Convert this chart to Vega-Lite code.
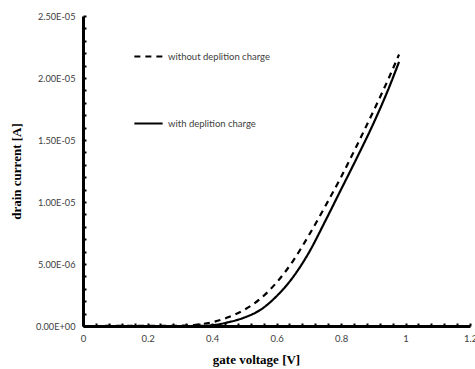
{
  "$schema": "https://vega.github.io/schema/vega-lite/v6.json",
  "width": 387,
  "height": 310,
  "autosize": {"type": "none"},
  "padding": {"left": 83, "top": 16, "right": 5, "bottom": 43},
  "background": "white",
  "config": {"view": {"stroke": null}},
  "data": {"values": [
    {"V": 0, "I": 0, "s": "without deplition charge"},
    {"V": 0.3, "I": 0.00000002, "s": "without deplition charge"},
    {"V": 0.35, "I": 0.0000001, "s": "without deplition charge"},
    {"V": 0.4, "I": 0.0000003, "s": "without deplition charge"},
    {"V": 0.45, "I": 0.0000007, "s": "without deplition charge"},
    {"V": 0.5, "I": 0.0000013, "s": "without deplition charge"},
    {"V": 0.55, "I": 0.0000022, "s": "without deplition charge"},
    {"V": 0.6, "I": 0.0000035, "s": "without deplition charge"},
    {"V": 0.65, "I": 0.0000052, "s": "without deplition charge"},
    {"V": 0.7, "I": 0.0000073, "s": "without deplition charge"},
    {"V": 0.75, "I": 0.0000096, "s": "without deplition charge"},
    {"V": 0.8, "I": 0.000012, "s": "without deplition charge"},
    {"V": 0.85, "I": 0.0000146, "s": "without deplition charge"},
    {"V": 0.9, "I": 0.0000173, "s": "without deplition charge"},
    {"V": 0.95, "I": 0.0000201, "s": "without deplition charge"},
    {"V": 0.98, "I": 0.0000219, "s": "without deplition charge"},
    {"V": 0, "I": 0, "s": "with deplition charge"},
    {"V": 0.35, "I": 0, "s": "with deplition charge"},
    {"V": 0.4, "I": 0.00000006, "s": "with deplition charge"},
    {"V": 0.45, "I": 0.0000003, "s": "with deplition charge"},
    {"V": 0.5, "I": 0.00000068, "s": "with deplition charge"},
    {"V": 0.55, "I": 0.0000013, "s": "with deplition charge"},
    {"V": 0.6, "I": 0.0000024, "s": "with deplition charge"},
    {"V": 0.65, "I": 0.0000039, "s": "with deplition charge"},
    {"V": 0.7, "I": 0.0000059, "s": "with deplition charge"},
    {"V": 0.75, "I": 0.0000084, "s": "with deplition charge"},
    {"V": 0.8, "I": 0.000011, "s": "with deplition charge"},
    {"V": 0.85, "I": 0.0000136, "s": "with deplition charge"},
    {"V": 0.9, "I": 0.0000163, "s": "with deplition charge"},
    {"V": 0.95, "I": 0.0000193, "s": "with deplition charge"},
    {"V": 0.98, "I": 0.0000213, "s": "with deplition charge"}
  ]},
  "mark": {"type": "line", "color": "black", "strokeWidth": 2.2, "interpolate": "monotone"},
  "encoding": {
    "x": {
      "field": "V", "type": "quantitative",
      "scale": {"domain": [0, 1.2], "nice": false, "zero": true},
      "axis": {
        "title": "gate voltage [V]",
        "titleFont": "Liberation Serif", "titleFontSize": 13, "titleFontWeight": "bold", "titleColor": "black",
        "titlePadding": 11, "titleX": 173,
        "values": [0,0.04,0.08,0.12,0.16,0.2,0.24,0.28,0.32,0.36,0.4,0.44,0.48,0.52,0.56,0.6,0.64,0.68,0.72,0.76,0.8,0.84,0.88,0.92,0.96,1,1.04,1.08,1.12,1.16,1.2],
        "labelExpr": "abs(datum.value*5 - round(datum.value*5)) < 0.001 ? format(datum.value, '.1~f') : ''",
        "labelFont": "Lato", "labelFontSize": 9.5, "labelColor": "#404040", "labelPadding": 10,
        "labelOverlap": false, "labelFlush": false,
        "grid": false, "domainColor": "black", "domainWidth": 3,
        "tickColor": "black", "tickWidth": 2, "tickSize": -3
      }
    },
    "y": {
      "field": "I", "type": "quantitative",
      "scale": {"domain": [0, 0.000025], "nice": false},
      "axis": {
        "title": "drain current [A]",
        "titleFont": "Liberation Serif", "titleFontSize": 13, "titleFontWeight": "bold", "titleColor": "black",
        "titlePadding": 12,
        "values": [0,0.000001,0.000002,0.000003,0.000004,0.000005,0.000006,0.000007,0.000008,0.000009,0.00001,0.000011,0.000012,0.000013,0.000014,0.000015,0.000016,0.000017,0.000018,0.000019,0.00002,0.000021,0.000022,0.000023,0.000024,0.000025],
        "labelExpr": "round(datum.value*1e6) % 5 == 0 ? (datum.value == 0 ? '0.00E+00' : upper(replace(format(datum.value, '.2e'), 'e-', 'e-0'))) : ''",
        "labelFont": "Lato", "labelFontSize": 9.2, "labelColor": "#404040", "labelPadding": 11,
        "labelOverlap": false, "labelFlush": false,
        "grid": false, "domainColor": "black", "domainWidth": 3,
        "tickColor": "black", "tickWidth": 2, "tickSize": -3
      }
    },
    "strokeDash": {
      "field": "s", "type": "nominal",
      "scale": {"domain": ["without deplition charge", "with deplition charge"], "range": [[6, 5], [1, 0]]},
      "legend": {
        "title": null, "orient": "none", "legendX": 50, "legendY": 25,
        "symbolType": "stroke", "symbolSize": 800, "symbolStrokeWidth": 2.2, "symbolStrokeColor": "black",
        "rowPadding": 47, "labelFont": "Lato", "labelFontSize": 9.5, "labelColor": "#404040", "labelOffset": 4
      }
    }
  }
}
